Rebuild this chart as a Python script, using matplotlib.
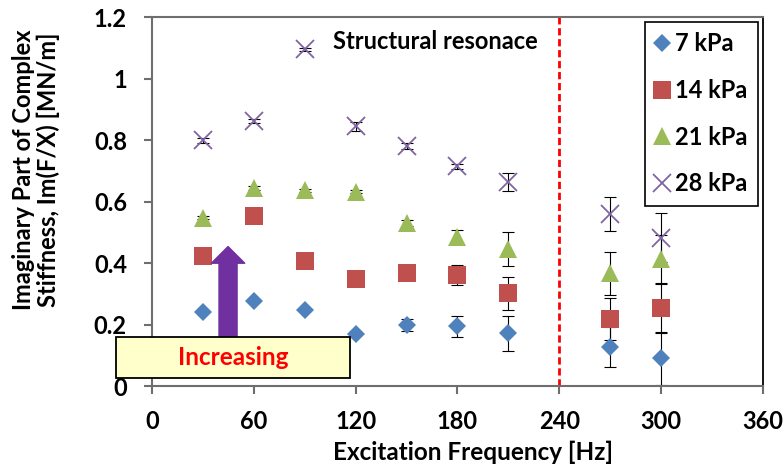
import matplotlib
matplotlib.use('Agg')
import matplotlib.pyplot as plt
from matplotlib.patches import Rectangle

# ---- data ----
freq = [30, 60, 90, 120, 150, 180, 210, 270, 300]
k7 = [0.242, 0.277, 0.248, 0.170, 0.199, 0.194, 0.172, 0.128, 0.090]
k7_err = [0.004, 0.004, 0.004, 0.004, 0.02, 0.035, 0.057, 0.065, 0.087]
k14 = [0.423, 0.553, 0.408, 0.347, 0.368, 0.361, 0.301, 0.217, 0.253]
k14_err = [0.004, 0.004, 0.004, 0.004, 0.01, 0.033, 0.053, 0.068, 0.080]
k21 = [0.548, 0.644, 0.637, 0.632, 0.531, 0.486, 0.445, 0.366, 0.412]
k21_err = [0.005, 0.005, 0.005, 0.005, 0.01, 0.02, 0.055, 0.070, 0.078]
k28 = [0.800, 0.862, 1.095, 0.845, 0.780, 0.715, 0.664, 0.560, 0.483]
k28_err = [0.008, 0.008, 0.005, 0.015, 0.010, 0.008, 0.030, 0.055, 0.080]
series_labels = ['7 kPa', '14 kPa', '21 kPa', '28 kPa']
x_ticks = [0, 60, 120, 180, 240, 300, 360]
y_ticks = [0, 0.2, 0.4, 0.6, 0.8, 1.0, 1.2]
y_tick_labels = ['0', '0.2', '0.4', '0.6', '0.8', '1', '1.2']
resonance_freq = 240

plt.rcParams['font.family'] = ['Lato', 'DejaVu Sans']
plt.rcParams['font.weight'] = 'bold'

fig = plt.figure(figsize=(7.83, 4.70), dpi=100)
ax = fig.add_axes([0.1941, 0.1787, 0.7803, 0.785])

styles = [
    dict(marker='D', color='#4F81BD', ms=9.0, mew=0),
    dict(marker='s', color='#C0504D', ms=12.5, mew=0),
    dict(marker='^', color='#9BBB59', ms=12.5, mew=0),
    dict(marker='x', color='#8064A2', ms=12.5, mew=1.3),
]
data = [(k7, k7_err), (k14, k14_err), (k21, k21_err), (k28, k28_err)]

for (vals, err), st, lab in zip(data, styles, series_labels):
    ax.errorbar(freq, vals, yerr=err, fmt='none', ecolor='black',
                elinewidth=0.8, capsize=4.3, capthick=0.8, zorder=2)
    ax.plot(freq, vals, linestyle='none', marker=st['marker'], ms=st['ms'],
            color=st['color'], markeredgecolor=st['color'],
            markeredgewidth=st['mew'], label=lab, zorder=3)

ax.axvline(resonance_freq, color='#FF0000', lw=2, ls=(0, (2.6, 1.35)), zorder=1.5)

ax.set_xlim(0, 360)
ax.set_ylim(0, 1.2)
ax.set_xticks(x_ticks)
ax.set_xticklabels([str(t) for t in x_ticks])
ax.set_yticks(y_ticks)
ax.set_yticklabels(y_tick_labels)

spine_gray = '#6E6E6E'
for s in ['top', 'left', 'bottom']:
    ax.spines[s].set_color(spine_gray)
    ax.spines[s].set_linewidth(1.5)
ax.spines['right'].set_color('black')
ax.spines['right'].set_linewidth(1.3)
ax.tick_params(direction='out', length=6, width=1.5, color=spine_gray,
               labelsize=17, labelcolor='black')
ax.tick_params(axis='x', pad=11)
ax.tick_params(axis='y', pad=12)

ax.set_xlabel('Excitation Frequency [Hz]', fontsize=17.5, fontweight='bold')
ax.xaxis.set_label_coords(0.525, -0.179)
ax.xaxis.label.set_va('center')
ax.set_ylabel('Imaginary Part of Complex\nStiffness, Im(F/X) [MN/m]', fontsize=17,
              fontweight='bold', va='center', ha='center', linespacing=1.05)
ax.yaxis.set_label_coords(-0.19, 0.585)

ax.text(0.2965, 0.933, 'Structural resonace', transform=ax.transAxes,
        fontsize=17, fontweight='bold', va='center', ha='left')

leg = ax.legend(loc='upper right', frameon=True, fancybox=False, edgecolor='black',
                fontsize=17, handlelength=0.6, handletextpad=0.25, labelspacing=1.0,
                borderaxespad=0.2, borderpad=0.45, framealpha=1)
leg.get_frame().set_linewidth(1.2)

# purple arrow (behind the "Increasing" box)
ax.annotate('', xy=(0.1245, 0.378), xytext=(0.1245, 0.08), xycoords='axes fraction',
            textcoords='axes fraction',
            arrowprops=dict(arrowstyle='simple,head_length=12,head_width=24,tail_width=13',
                            mutation_scale=1, color='#7030A0', shrinkA=0, shrinkB=0),
            zorder=4)

box = Rectangle((-0.059, 0.0217), 0.383, 0.111, transform=ax.transAxes,
                facecolor='#FFFFCC', edgecolor='black', lw=1.3, clip_on=False, zorder=6)
ax.add_patch(box)
ax.text(0.1326, 0.077, 'Increasing', transform=ax.transAxes, color='#FF0000',
        fontsize=17.5, fontweight='bold', ha='center', va='center', zorder=7)

fig.savefig('out.png', dpi=100)
